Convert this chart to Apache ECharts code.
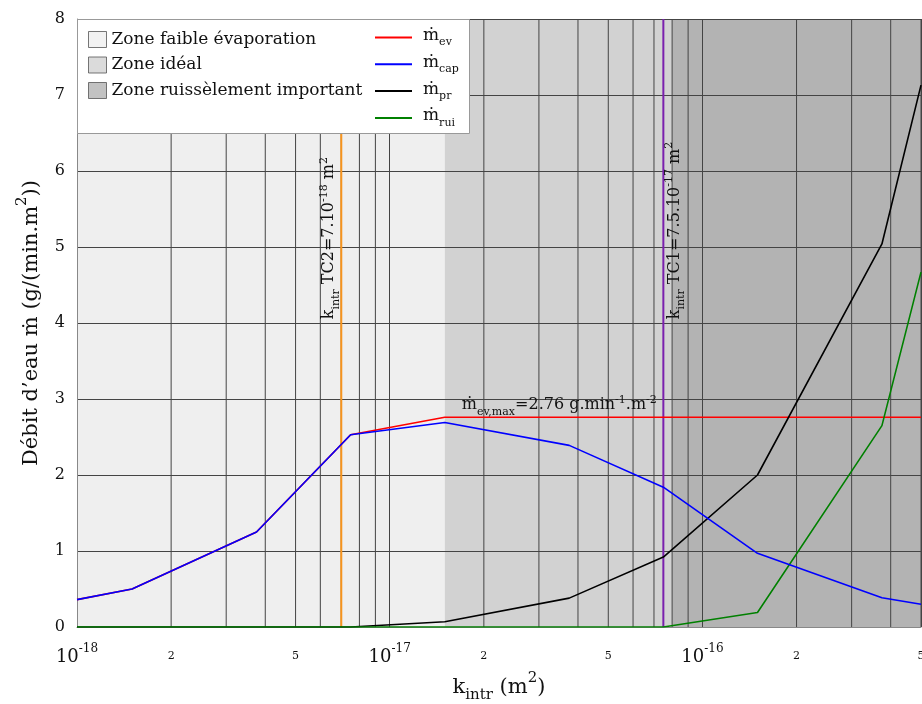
<!DOCTYPE html>
<html><head><meta charset="utf-8">
<script src="https://cdn.jsdelivr.net/npm/echarts@6/dist/echarts.min.js"></script>
<style>html,body{margin:0;padding:0;background:#fff}#c{width:922px;height:704px}</style>
</head><body><div id="c"></div>
<script>
// ---- data ----
const kValues = [1e-18, 1.5e-18, 3.75e-18, 7.5e-18, 1.5e-17, 3.75e-17, 7.5e-17, 1.5e-16, 3.75e-16, 5e-16];
const mEv  = [0.36, 0.50, 1.25, 2.53, 2.76, 2.76, 2.76, 2.76, 2.76, 2.76];
const mCap = [0.36, 0.50, 1.25, 2.53, 2.69, 2.39, 1.84, 0.97, 0.385, 0.30];
const mPr  = [0, 0, 0, 0, 0.07, 0.38, 0.92, 2.00, 5.04, 7.13];
const mRui = [0, 0, 0, 0, 0, 0, 0, 0.19, 2.65, 4.67];
const lineSubs = ['ev', 'cap', 'pr', 'rui'];
const lineColors = ['#ff0000', '#0000ff', '#000000', '#008000'];
const zoneNames = ['Zone faible évaporation', 'Zone idéal', 'Zone ruissèlement important'];
const zoneStart = [1e-18, 1.5e-17, 8e-17];
const zoneEnd   = [1.5e-17, 8e-17, 5e-16];
const zoneColors = ['#efefef', '#d2d2d2', '#b3b3b3'];
const minorGrid = [2e-18,3e-18,4e-18,5e-18,6e-18,7e-18,8e-18,9e-18,2e-17,3e-17,4e-17,5e-17,6e-17,7e-17,8e-17,9e-17,2e-16,3e-16,4e-16,5e-16];
const minorLabelled = [2e-18,5e-18,2e-17,5e-17,2e-16,5e-16];
const tcValues = [7e-18, 7.5e-17];
const tcNames = ['TC2', 'TC1'];
const tcMant = ['7', '7.5'];
const tcExp = ['-18', '-17'];
const tcColors = ['#f7941d', '#7a1fae'];
const evMax = 2.76;
const xMin = 1e-18, xMax = 5e-16, yMin = 0, yMax = 8;

const FONT = 'DejaVu Serif';
const TXT = '#111';
const rich = {
  n: {fontFamily: FONT, fontSize: 16, color: TXT, verticalAlign: 'bottom', padding: [0,0,4,0]},
  s: {fontFamily: FONT, fontSize: 11, color: TXT, verticalAlign: 'bottom', padding: [0,0,0,0]},
  u: {fontFamily: FONT, fontSize: 11, color: TXT, verticalAlign: 'bottom', padding: [0,0,12,0]}
};
function mant(v){ const e = Math.floor(Math.log10(v)+1e-9); return String(Math.round(v/Math.pow(10,e))); }
function same(a,b){ return Math.abs(Math.log10(a)-Math.log10(b))<1e-6; }

const chart = echarts.init(document.getElementById('c'), null, {renderer: 'canvas'});
const series = [];
zoneNames.forEach((nm, i) => {
  series.push({
    name: nm, type: 'scatter', data: [], z: 0,
    itemStyle: {color: zoneColors[i], borderColor: '#555', borderWidth: 1},
    markArea: {silent: true, z: 0, itemStyle: {color: zoneColors[i]},
      data: [[{xAxis: zoneStart[i]}, {xAxis: zoneEnd[i]}]]}
  });
});
// minor grid lines (custom series through the axis scale)
series.push({
  name: 'minor', type: 'custom', z: 1, silent: true, clip: false,
  data: minorGrid.map(v => [v, yMin]),
  renderItem: (params, api) => {
    const v = api.value(0);
    const p0 = api.coord([v, yMin]), p1 = api.coord([v, yMax]);
    const children = [{type: 'line', shape: {x1: p0[0], y1: p0[1], x2: p1[0], y2: p1[1]},
      style: {stroke: '#444', lineWidth: 1}}];
    if (minorLabelled.some(w => same(v, w))) {
      children.push({type: 'text', x: p0[0], y: p0[1] + 29,
        style: {text: mant(v), align: 'center', verticalAlign: 'middle', fontFamily: FONT, fontSize: 11, fill: TXT}});
    }
    return {type: 'group', children};
  }
});
// TC lines
const tcLabel = i => '{n|k}{s|intr}{n| ' + tcNames[i] + '=' + tcMant[i] + '.10}{u|' + tcExp[i] + '}{n| m}{u|2}';
series.push({
  name: 'tc', type: 'custom', z: 3, silent: true, clip: false,
  data: tcValues.map(v => [v, yMin]),
  renderItem: (params, api) => {
    const i = params.dataIndex, v = api.value(0);
    const p0 = api.coord([v, yMin]), p1 = api.coord([v, yMax]);
    return {type: 'line', shape: {x1: p0[0], y1: p0[1], x2: p1[0], y2: p1[1]},
      style: {stroke: tcColors[i], lineWidth: 2}};
  },
  markPoint: {silent: true, symbol: 'circle', symbolSize: 0, animation: false,
    data: tcValues.map((v, i) => ({coord: [v, 4.05], label: {show: true, position: [0,0], rotate: 90, align: 'left',
      verticalAlign: i === 0 ? 'bottom' : 'top', formatter: tcLabel(i), rich: rich}}))}
});
const lineData = [mEv, mCap, mPr, mRui];
lineSubs.forEach((sub, i) => {
  const s = {
    name: sub, type: 'line', z: 4 + (i === 1 ? 2 : 0), symbol: 'none', animation: false,
    lineStyle: {color: lineColors[i], width: 1.6}, itemStyle: {color: lineColors[i]},
    data: kValues.map((k, j) => [k, lineData[i][j]])
  };
  if (i === 0) {
    s.markPoint = {silent: true, symbol: 'circle', symbolSize: 0, animation: false,
      data: [{coord: [1.7e-17, evMax], label: {show: true, position: [0,0], align: 'left', verticalAlign: 'bottom', offset: [0,0],
        formatter: '{n|ṁ}{s|ev,max}{n|=2.76 g.min}{u|-1}{n|.m}{u|-2}', rich: rich}}]};
  }
  series.push(s);
});

chart.setOption({
  animation: false,
  backgroundColor: '#fff',
  grid: {left: 77, right: 1, top: 19, bottom: 77, containLabel: false, outerBoundsMode: 'none'},
  xAxis: {
    type: 'log', logBase: 10, min: xMin, max: xMax, z: 1,
    name: '{n|k}{s|intr}{n| (m}{u|2}{n|)}', nameLocation: 'middle', nameGap: 42,
    nameTextStyle: {rich: {
      n: {fontFamily: FONT, fontSize: 21, color: TXT, verticalAlign: 'bottom', padding: [0,0,5,0]},
      s: {fontFamily: FONT, fontSize: 15, color: TXT, verticalAlign: 'bottom'},
      u: {fontFamily: FONT, fontSize: 15, color: TXT, verticalAlign: 'bottom', padding: [0,0,17,0]}}},
    axisLine: {show: true, lineStyle: {color: '#888'}},
    axisTick: {show: false},
    splitLine: {show: true, lineStyle: {color: '#444', width: 1}},
    axisLabel: {margin: 16, showMinLabel: true, showMaxLabel: true,
      formatter: v => { const e = Math.log10(v), r = Math.round(e); return Math.abs(e-r) < 1e-6 ? '{b|10}{e|' + r + '}' : ''; },
      rich: {b: {fontFamily: FONT, fontSize: 18, color: TXT, verticalAlign: 'bottom'},
             e: {fontFamily: FONT, fontSize: 12, color: TXT, verticalAlign: 'bottom', padding: [0,0,11,0]}}}
  },
  yAxis: {
    type: 'value', min: yMin, max: yMax, interval: 1, z: 1,
    name: '{n|Débit d’eau ṁ (g/(min.m}{u|2}{n|))}', nameLocation: 'middle', nameGap: 35, nameRotate: 90,
    nameTextStyle: {rich: {
      n: {fontFamily: FONT, fontSize: 21, color: TXT, verticalAlign: 'bottom'},
      u: {fontFamily: FONT, fontSize: 15, color: TXT, verticalAlign: 'bottom', padding: [0,0,12,0]}}},
    axisLine: {show: true, lineStyle: {color: '#888'}},
    axisTick: {show: false},
    splitLine: {show: true, lineStyle: {color: '#444', width: 1}},
    axisLabel: {margin: 12, fontFamily: FONT, fontSize: 16, color: TXT}
  },
  graphic: [{type: 'rect', z: 10, shape: {x: 77.5, y: 19.5, width: 392, height: 114},
    style: {fill: '#fff', stroke: '#999', lineWidth: 1}}],
  legend: [
    {data: zoneNames.map(n => ({name: n, icon: 'rect'})), orient: 'vertical', left: 83, top: 26, z: 11,
      itemWidth: 18, itemHeight: 16, itemGap: 8.5, selectedMode: false,
      itemStyle: {borderColor: '#555', borderWidth: 1},
      textStyle: {fontFamily: FONT, fontSize: 17, color: TXT}},
    {data: lineSubs.map(n => ({name: n, icon: 'rect'})), orient: 'vertical', left: 370, top: 22, z: 11,
      itemWidth: 37, itemHeight: 2, itemGap: 5.8, selectedMode: false,
      formatter: n => '{m|ṁ}{s|' + n + '}',
      textStyle: {rich: {
        m: {fontFamily: FONT, fontSize: 17, color: TXT, verticalAlign: 'bottom', padding: [0,0,4,6]},
        s: {fontFamily: FONT, fontSize: 11, color: TXT, verticalAlign: 'bottom'}}}}
  ],
  series: series
});
</script></body></html>
